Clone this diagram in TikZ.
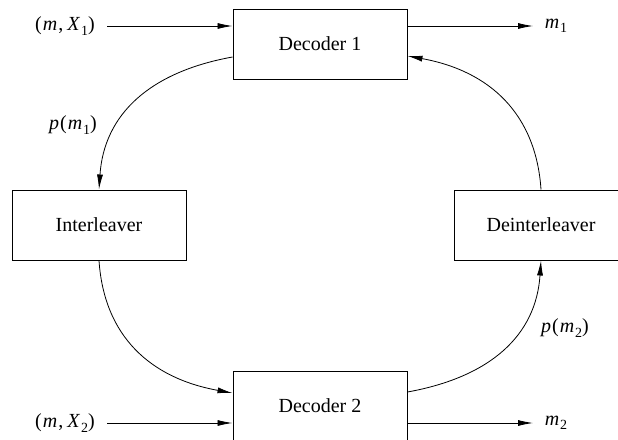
\documentclass[tikz,border=0pt]{standalone}
\usepackage{fontspec}
\setmainfont{Liberation Serif}
\usetikzlibrary{arrows.meta}
\newcommand{\sbs}[1]{\raisebox{-0.22em}{\fontsize{14}{16}\selectfont #1}}
\begin{document}
\begin{tikzpicture}[x=1pt,y=-1pt,
  blk/.style={draw, line width=1pt, minimum width=174pt, minimum height=70pt, inner sep=0pt, font=\fontsize{20}{24}\selectfont},
  lbl/.style={font=\fontsize{20}{24}\selectfont, inner sep=0pt},
  arr/.style={line width=0.8pt, -{Latex[length=15pt,width=6pt]}}]
\useasboundingbox (0,0) rectangle (618,439);
\clip (0,0) rectangle (618,439);
\node[blk] (dec1) at (320,44) {Decoder 1};
\node[blk] (dec2) at (320,406) {Decoder 2};
\node[blk] (int) at (99,225) {Interleaver};
\node[blk] (deint) at (541,225) {Deinterleaver};
\node[lbl] (lx1) at (65,26) {(\kern1pt\textit{m}\kern1pt,\kern4pt\textit{X}\kern1pt\sbs{1})};
\node[lbl] (lx2) at (65,423) {(\kern1pt\textit{m}\kern1pt,\kern4pt\textit{X}\kern1pt\sbs{2})};
\node[lbl] (lm1) at (556,26) {\textit{m}\kern1pt\sbs{1}};
\node[lbl] (lm2) at (556,423) {\textit{m}\kern1pt\sbs{2}};
\node[lbl] (lp1) at (73,125) {\textit{p}\kern1pt(\kern1pt\textit{m}\kern1pt\sbs{1})};
\node[lbl] (lp2) at (565,328) {\textit{p}\kern1pt(\kern1pt\textit{m}\kern1pt\sbs{2})};
\coordinate (a1) at (107,26);
\coordinate (a2) at (107,423);
\coordinate (b1) at (533,26);
\coordinate (b2) at (533,423);
\draw[arr] (a1) -- (a1 -| dec1.west);
\draw[arr] (a1 -| dec1.east) -- (b1);
\draw[arr] (a2) -- (a2 -| dec2.west);
\draw[arr] (a2 -| dec2.east) -- (b2);
\draw[arr] ([yshift=-13pt]dec1.west) .. controls +(-83,15) and +(5,-75) .. (int.north);
\draw[arr] (deint.north) .. controls +(-5,-75) and +(83,15) .. ([yshift=-12pt]dec1.east);
\draw[arr] (int.south) .. controls +(5,75) and +(-83,-15) .. ([yshift=13pt]dec2.west);
\draw[arr] ([yshift=14pt]dec2.east) .. controls +(83,-15) and +(-5,75) .. (deint.south);
\end{tikzpicture}
\end{document}
